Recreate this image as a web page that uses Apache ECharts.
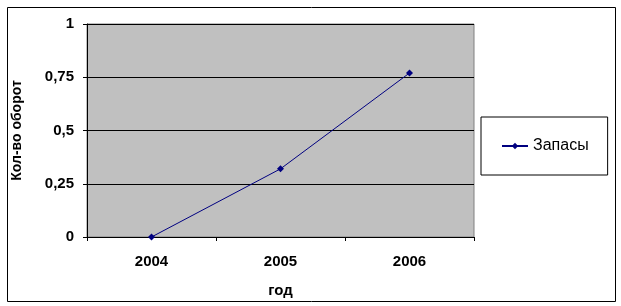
<!DOCTYPE html>
<html><head><meta charset="utf-8">
<script src="https://cdn.jsdelivr.net/npm/echarts@6/dist/echarts.min.js"></script>
<style>html,body{margin:0;padding:0;background:#fff}#c{width:621px;height:306px}</style>
</head><body><div id="c"></div>
<script>
var categories = ['2004', '2005', '2006'];
var seriesName = 'Запасы';
var values = [0, 0.32, 0.77];
var yTicks = [0, 0.25, 0.5, 0.75, 1];
var xTitle = 'год';
var yTitle = 'Кол-во оборот';

var chart = echarts.init(document.getElementById('c'), null, {renderer: 'canvas'});
var font = 'Arial, "Liberation Sans", sans-serif';
chart.setOption({
  animation: false,
  backgroundColor: '#fff',
  graphic: [{
    type: 'rect', left: 5, top: 5, silent: true,
    shape: {x: 0, y: 0, width: 608, height: 294},
    style: {fill: 'none', stroke: '#000', lineWidth: 1}
  }],
  grid: {left: 87, right: 147, top: 24, bottom: 69, show: true,
    backgroundColor: '#c0c0c0', borderColor: '#808080', borderWidth: 1},
  legend: {
    show: true, left: 481, top: 117,
    orient: 'vertical',
    padding: [21, 19, 21, 20],
    borderColor: '#000', borderWidth: 1,
    itemWidth: 26, itemHeight: 8, itemGap: 0,
    textStyle: {fontFamily: font, fontSize: 16, color: '#000', padding: [0, 0, 0, 0]},
    data: [{name: seriesName}]
  },
  xAxis: {
    type: 'category', data: categories, boundaryGap: true,
    name: xTitle, nameLocation: 'middle', nameGap: 46,
    nameTextStyle: {fontFamily: font, fontSize: 15, fontWeight: 'bold', color: '#000'},
    axisLine: {lineStyle: {color: '#000', width: 1}},
    axisTick: {show: true, length: 4, alignWithLabel: false, lineStyle: {color: '#000'}},
    axisLabel: {fontFamily: font, fontSize: 15, fontWeight: 'bold', color: '#000', margin: 17},
    splitLine: {show: false}
  },
  yAxis: {
    type: 'value', min: yTicks[0], max: yTicks[yTicks.length - 1], interval: 0.25,
    name: yTitle, nameLocation: 'middle', nameGap: 63,
    nameTextStyle: {fontFamily: font, fontSize: 14, fontWeight: 'bold', color: '#000'},
    axisLine: {show: true, lineStyle: {color: '#000', width: 1}},
    axisTick: {show: true, length: 4, lineStyle: {color: '#000'}},
    axisLabel: {fontFamily: font, fontSize: 15, fontWeight: 'bold', color: '#000', margin: 13,
      formatter: function (v) { return String(v).replace('.', ','); }},
    splitLine: {show: true, lineStyle: {color: '#000', width: 1}}
  },
  series: [{
    name: seriesName, type: 'line', data: values,
    symbol: 'diamond', symbolSize: 7, showSymbol: true,
    itemStyle: {color: '#000080'},
    lineStyle: {color: '#000080', width: 1}
  }]
});
</script>
</body></html>
